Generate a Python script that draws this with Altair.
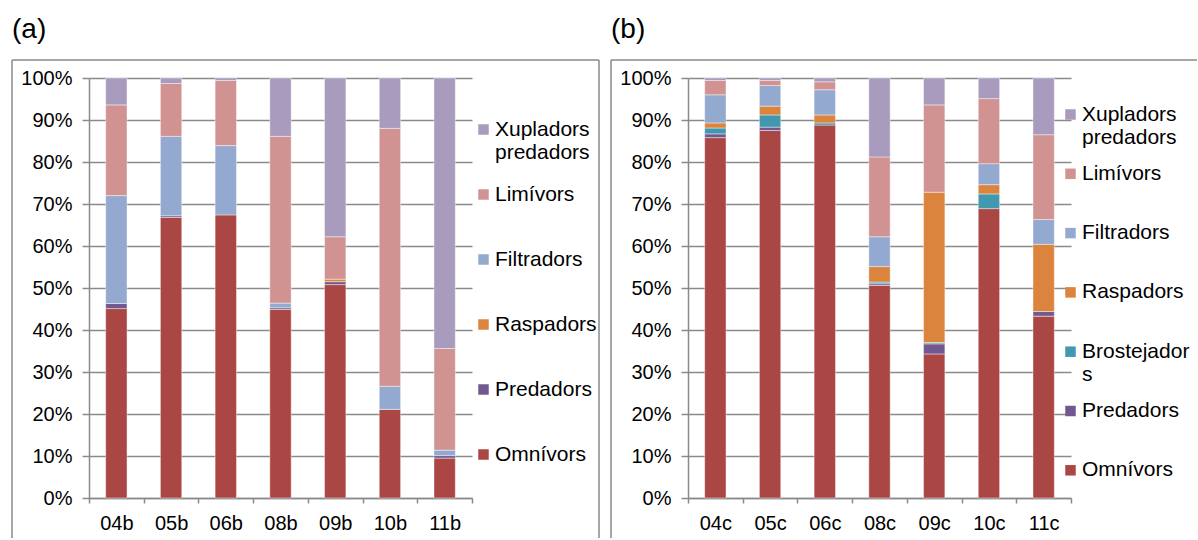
import altair as alt
import pandas as pd

# Sampling sites for each panel
sites_a = ["04b", "05b", "06b", "08b", "09b", "10b", "11b"]
sites_b = ["04c", "05c", "06c", "08c", "09c", "10c", "11c"]

# Share (%) of each feeding group per site, panel (a)
omnivors_a = [45.1, 66.8, 67.4, 44.9, 50.8, 21.1, 9.5]
predadors_a = [1.2, 0.4, 0.0, 0.4, 0.7, 0.0, 0.6]
raspadors_a = [0.0, 0.0, 0.0, 0.0, 0.6, 0.0, 0.0]
filtradors_a = [25.7, 18.9, 16.5, 1.1, 0.0, 5.5, 1.3]
limivors_a = [21.6, 12.6, 15.5, 39.7, 10.1, 61.4, 24.2]
xupladors_a = [6.4, 1.3, 0.6, 13.9, 37.8, 12.0, 64.4]

# Share (%) of each feeding group per site, panel (b)
omnivors_b = [85.8, 87.5, 88.8, 50.6, 34.3, 68.9, 43.3]
predadors_b = [0.9, 0.8, 0.0, 0.4, 2.4, 0.0, 1.1]
brostejadors_b = [1.4, 2.9, 0.5, 0.4, 0.3, 3.5, 0.0]
raspadors_b = [1.2, 2.1, 1.9, 3.7, 35.8, 2.2, 16.0]
filtradors_b = [6.7, 4.9, 6.0, 7.1, 0.0, 5.0, 5.9]
limivors_b = [3.4, 1.2, 1.9, 19.0, 20.8, 15.5, 20.2]
xupladors_b = [0.6, 0.6, 0.9, 18.8, 6.4, 4.9, 13.5]

group_colors = {
    "Omnívors": "#AA4643",
    "Predadors": "#71588F",
    "Brostejadors": "#4198AF",
    "Raspadors": "#DB843D",
    "Filtradors": "#93A9CF",
    "Limívors": "#D19392",
    "Xupladors predadors": "#A99BBD",
}

series_a = [
    ("Omnívors", omnivors_a),
    ("Predadors", predadors_a),
    ("Raspadors", raspadors_a),
    ("Filtradors", filtradors_a),
    ("Limívors", limivors_a),
    ("Xupladors predadors", xupladors_a),
]
series_b = [
    ("Omnívors", omnivors_b),
    ("Predadors", predadors_b),
    ("Brostejadors", brostejadors_b),
    ("Raspadors", raspadors_b),
    ("Filtradors", filtradors_b),
    ("Limívors", limivors_b),
    ("Xupladors predadors", xupladors_b),
]

FONT = "Liberation Sans"
GREY = "#8a8a8a"
W, H = 383, 420

label_expr = (
    "datum.label == 'Xupladors predadors' ? ['Xupladors', 'predadors'] : "
    "datum.label == 'Brostejadors' ? ['Brostejador', 's'] : datum.label"
)

one = pd.DataFrame({"k": [0]})


def hline(x, x2, y):
    return alt.Chart(one).mark_rule(color=GREY, strokeWidth=1.5).encode(
        x=alt.value(x), x2=alt.value(x2), y=alt.value(y)
    )


def vline(x, y, y2):
    return alt.Chart(one).mark_rule(color=GREY, strokeWidth=1.5).encode(
        x=alt.value(x), y=alt.value(y), y2=alt.value(y2)
    )


def panel(sites, series, tag, legend_x, legend_y, row_pad, frame):
    rows = []
    for rank, (group, vals) in enumerate(series):
        for site, v in zip(sites, vals):
            if v > 0:
                rows.append({"site": site, "group": group, "pct": v, "rank": rank})
    df = pd.DataFrame(rows)
    legend_order = [g for g, _ in series][::-1]

    bars = alt.Chart(df).mark_bar(
        width={"band": 0.39}, stroke="white", strokeWidth=0.7, strokeOpacity=0.6
    ).encode(
        x=alt.X(
            "site:N",
            sort=sites,
            title=None,
            scale=alt.Scale(paddingInner=0, paddingOuter=0),
            axis=alt.Axis(labelAngle=0, tickBand="extent", grid=False,
                          tickSize=5, labelPadding=10),
        ),
        y=alt.Y(
            "pct:Q",
            stack="normalize",
            title=None,
            scale=alt.Scale(domain=[0, 1], nice=False),
            axis=alt.Axis(format=".0%", values=[i / 10 for i in range(11)],
                          tickSize=7, labelPadding=10, grid=True),
        ),
        color=alt.Color(
            "group:N",
            scale=alt.Scale(domain=legend_order,
                            range=[group_colors[g] for g in legend_order]),
            legend=alt.Legend(
                title=None, orient="none", legendX=legend_x, legendY=legend_y,
                symbolType="square", symbolSize=110, symbolStrokeWidth=0,
                rowPadding=row_pad, labelOffset=1, labelExpr=label_expr,
                gridAlign="all",
            ),
        ),
        order=alt.Order("rank:Q", sort="ascending"),
        tooltip=["site:N", "group:N", "pct:Q"],
    )

    lines = [hline(*f[1:]) if f[0] == "h" else vline(*f[1:]) for f in frame]
    return alt.layer(bars, *lines).properties(
        width=W,
        height=H,
        title=alt.TitleParams(tag, anchor="start", frame="group", dx=-77,
                              fontSize=28, font=FONT, fontWeight="normal",
                              offset=15),
    )


# panel borders: top edge, side edges
frame_a = [("h", -77, 510, -18), ("v", -77, -18, 460), ("v", 510, -18, 460)]
frame_b = [("h", -77, 509, -18), ("v", -77, -18, 460)]

pa = panel(sites_a, series_a, "(a)", 384, 41, 20, frame_a)
pb = panel(sites_b, series_b, "(b)", 372, 26, 14.3, frame_b)

chart = (
    alt.hconcat(pa, pb, spacing=10)
    .resolve_scale(color="independent")
    .properties(padding={"left": 11, "top": 16, "right": 0, "bottom": 0})
    .configure_axis(
        labelFont=FONT, labelFontSize=20, labelColor="black",
        domainColor=GREY, tickColor=GREY, gridColor=GREY,
        domainWidth=1.5, tickWidth=1.5, gridWidth=1.5,
    )
    .configure_legend(labelFont=FONT, labelFontSize=21, labelColor="black")
    .configure_view(strokeWidth=0)
)

chart.save("out.html", embed_options={"renderer": "svg", "actions": False})
